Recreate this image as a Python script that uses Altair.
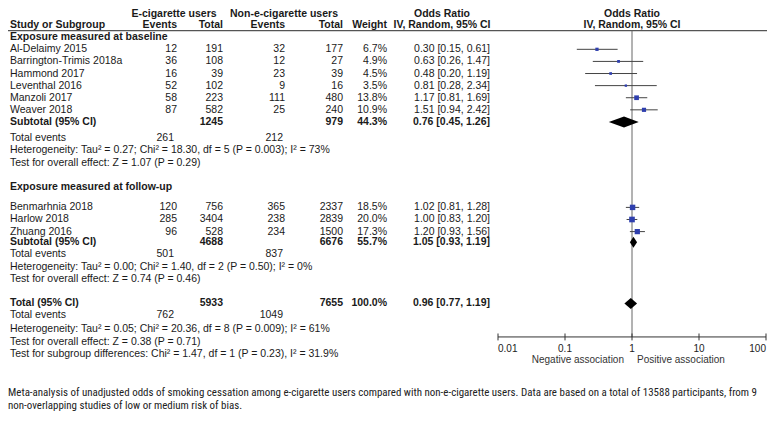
import altair as alt
import pandas as pd

# ---------------- data ----------------
studies = ["Al-Delaimy 2015", "Barrington-Trimis 2018a", "Hammond 2017", "Leventhal 2016",
           "Manzoli 2017", "Weaver 2018", "Benmarhnia 2018", "Harlow 2018", "Zhuang 2016"]
ecig_events = [12, 36, 16, 52, 58, 87, 120, 285, 96]
ecig_total = [191, 108, 39, 102, 223, 582, 756, 3404, 528]
non_events = [32, 12, 23, 9, 111, 25, 365, 238, 234]
non_total = [177, 27, 39, 16, 480, 240, 2337, 2839, 1500]
weights = [6.7, 4.9, 4.5, 3.5, 13.8, 10.9, 18.5, 20.0, 17.3]
or_est = [0.30, 0.63, 0.48, 0.81, 1.17, 1.51, 1.02, 1.00, 1.20]
or_low = [0.15, 0.26, 0.20, 0.28, 0.81, 0.94, 0.81, 0.83, 0.93]
or_high = [0.61, 1.47, 1.19, 2.34, 1.69, 2.42, 1.28, 1.20, 1.56]
study_lines = [2.9, 3.88, 4.86, 5.84, 6.82, 7.80, 15.7, 16.68, 17.66]

pooled_labels = ["Subtotal (95% CI)", "Subtotal (95% CI)", "Total (95% CI)"]
pooled_ecig_total = [1245, 4688, 5933]
pooled_non_total = [979, 6676, 7655]
pooled_weight = [44.3, 55.7, 100.0]
pooled_est = [0.76, 1.05, 0.96]
pooled_low = [0.45, 0.93, 0.77]
pooled_high = [1.26, 1.19, 1.19]
pooled_lines = [8.79, 18.52, 23.48]

total_events_ecig = [261, 501, 762]
total_events_non = [212, 837, 1049]
total_events_lines = [10.07, 19.5, 24.45]

group_headers = ["Exposure measured at baseline", "Exposure measured at follow-up"]
group_lines = [1.93, 14.03]

stats_texts = [
    "Heterogeneity: Tau\u00b2 = 0.27; Chi\u00b2 = 18.30, df = 5 (P = 0.003); I\u00b2 = 73%",
    "Test for overall effect: Z = 1.07 (P = 0.29)",
    "Heterogeneity: Tau\u00b2 = 0.00; Chi\u00b2 = 1.40, df = 2 (P = 0.50); I\u00b2 = 0%",
    "Test for overall effect: Z = 0.74 (P = 0.46)",
    "Heterogeneity: Tau\u00b2 = 0.05; Chi\u00b2 = 20.36, df = 8 (P = 0.009); I\u00b2 = 61%",
    "Test for overall effect: Z = 0.38 (P = 0.71)",
    "Test for subgroup differences: Chi\u00b2 = 1.47, df = 1 (P = 0.23), I\u00b2 = 31.9%",
]
stats_lines = [11.08, 12.09, 20.5, 21.5, 25.57, 26.58, 27.59]

axis_ticks = [0.01, 0.1, 1, 10, 100]
axis_tick_labels = ["0.01", "0.1", "1", "10", "100"]

caption_lines_text = [
    "Meta-analysis of unadjusted odds of smoking cessation among e-cigarette users compared with non-e-cigarette users. Data are based on a total of 13588 participants, from 9",
    "non-overlapping studies of low or medium risk of bias.",
]

# ---------------- layout ----------------
W, H = 759, 405
LINE_PX = 12.35
TOP = 5.5
HEADER1, HEADER2, HEADER_RULE = 0.05, 0.94, 1.39
AXIS_LINE, TICK_LABEL_LINE, ASSOC_LINE = 26.19, 27.13, 28.06
CAPTION_LINES = [30.7, 31.78]
TICK_HALF = 0.28
DIAMOND_HALF = 0.45

FONT = "Liberation Sans"
FS = 10.5
TXT = "#1a1a1a"

YS = alt.Scale(domain=[-TOP / LINE_PX, (H - TOP) / LINE_PX], reverse=True)
XS = alt.Scale(type="log", domain=[0.01, 100], range=[490, 758])

# columns (chart px)
X_LABEL = 2
X_EV1, X_TOT1, X_EV2, X_TOT2, X_W, X_OR = 169, 215, 277, 335, 379, 482
X_OR_HDR = 434
X_FOREST_HDR = 624


def fmt_ci(e, l, h):
    return f"{e:.2f} [{l:.2f}, {h:.2f}]"


study_df = pd.DataFrame({
    "label": studies, "e_ev": [str(v) for v in ecig_events], "e_tot": [str(v) for v in ecig_total],
    "n_ev": [str(v) for v in non_events], "n_tot": [str(v) for v in non_total],
    "w": [f"{v:.1f}%" for v in weights], "weight": weights,
    "ci": [fmt_ci(e, l, h) for e, l, h in zip(or_est, or_low, or_high)],
    "est": or_est, "lo": or_low, "hi": or_high, "line": study_lines,
})

pooled_df = pd.DataFrame({
    "label": pooled_labels, "e_tot": [str(v) for v in pooled_ecig_total],
    "n_tot": [str(v) for v in pooled_non_total], "w": [f"{v:.1f}%" for v in pooled_weight],
    "ci": [fmt_ci(e, l, h) for e, l, h in zip(pooled_est, pooled_low, pooled_high)],
    "line": pooled_lines,
})

te_df = pd.DataFrame({
    "label": ["Total events"] * 3, "e_ev": [str(v) for v in total_events_ecig],
    "n_ev": [str(v) for v in total_events_non], "line": total_events_lines,
})

grp_df = pd.DataFrame({"label": group_headers, "line": group_lines})
stats_df = pd.DataFrame({"label": stats_texts, "line": stats_lines})
cap_df = pd.DataFrame({"label": caption_lines_text, "line": CAPTION_LINES})

diamond_rows = []
for i, (e, l, h, ln) in enumerate(zip(pooled_est, pooled_low, pooled_high, pooled_lines)):
    diamond_rows.append({"g": i, "x": l, "y1": ln, "y2": ln})
    diamond_rows.append({"g": i, "x": e, "y1": ln - DIAMOND_HALF, "y2": ln + DIAMOND_HALF})
    diamond_rows.append({"g": i, "x": h, "y1": ln, "y2": ln})
diamond_df = pd.DataFrame(diamond_rows)

tick_df = pd.DataFrame({"v": axis_ticks, "lab": axis_tick_labels,
                        "y1": AXIS_LINE - TICK_HALF, "y2": AXIS_LINE + TICK_HALF,
                        "ly": TICK_LABEL_LINE})
axis_df = pd.DataFrame({"lo": [axis_ticks[0]], "hi": [axis_ticks[-1]], "line": [AXIS_LINE]})
ref_df = pd.DataFrame({"v": [1], "y1": [HEADER_RULE], "y2": [AXIS_LINE]})
hrule_df = pd.DataFrame({"line": [HEADER_RULE]})


def txt(df, field, x, align="left", bold=False, size=FS, color=TXT, font=FONT, line="line"):
    return alt.Chart(df).mark_text(
        align=align, baseline="middle", font=font, fontSize=size,
        fontWeight="bold" if bold else "normal", color=color,
    ).encode(
        x=alt.value(x),
        y=alt.Y(f"{line}:Q", scale=YS, axis=None),
        text=alt.Text(f"{field}:N"),
    )


hdr1_df = pd.DataFrame({"t": ["E-cigarette users", "Non-e-cigarette users", "Odds Ratio", "Odds Ratio"],
                        "line": HEADER1})
hdr2_df = pd.DataFrame({"t": ["Study or Subgroup", "Events", "Total", "Events", "Total", "Weight",
                              "IV, Random, 95% CI", "IV, Random, 95% CI"], "line": HEADER2})

layers = []
# headers
layers.append(txt(hdr1_df.iloc[[0]], "t", 166, "center", True))
layers.append(txt(hdr1_df.iloc[[1]], "t", 276, "center", True))
layers.append(txt(hdr1_df.iloc[[2]], "t", X_OR_HDR, "center", True))
layers.append(txt(hdr1_df.iloc[[3]], "t", X_FOREST_HDR, "center", True))
layers.append(txt(hdr2_df.iloc[[0]], "t", X_LABEL, "left", True))
layers.append(txt(hdr2_df.iloc[[1]], "t", X_EV1, "right", True))
layers.append(txt(hdr2_df.iloc[[2]], "t", X_TOT1, "right", True))
layers.append(txt(hdr2_df.iloc[[3]], "t", X_EV2, "right", True))
layers.append(txt(hdr2_df.iloc[[4]], "t", X_TOT2, "right", True))
layers.append(txt(hdr2_df.iloc[[5]], "t", X_W, "right", True))
layers.append(txt(hdr2_df.iloc[[6]], "t", X_OR_HDR, "center", True))
layers.append(txt(hdr2_df.iloc[[7]], "t", X_FOREST_HDR, "center", True))

# header rule
layers.append(alt.Chart(hrule_df).mark_rule(color="#555555", strokeWidth=1.2).encode(
    x=alt.value(0), x2=alt.value(W), y=alt.Y("line:Q", scale=YS, axis=None)))

# group headers
layers.append(txt(grp_df, "label", X_LABEL, "left", True))

# studies
layers.append(txt(study_df, "label", X_LABEL))
layers.append(txt(study_df, "e_ev", X_EV1, "right"))
layers.append(txt(study_df, "e_tot", X_TOT1, "right"))
layers.append(txt(study_df, "n_ev", X_EV2, "right"))
layers.append(txt(study_df, "n_tot", X_TOT2, "right"))
layers.append(txt(study_df, "w", X_W, "right"))
layers.append(txt(study_df, "ci", X_OR, "right"))

# pooled rows
layers.append(txt(pooled_df, "label", X_LABEL, "left", True))
layers.append(txt(pooled_df, "e_tot", X_TOT1, "right", True))
layers.append(txt(pooled_df, "n_tot", X_TOT2, "right", True))
layers.append(txt(pooled_df, "w", X_W, "right", True))
layers.append(txt(pooled_df, "ci", X_OR, "right", True))

# total events
layers.append(txt(te_df, "label", X_LABEL))
layers.append(txt(te_df, "e_ev", X_EV1 - 3, "right"))
layers.append(txt(te_df, "n_ev", X_EV2 - 2, "right"))

# stats
layers.append(txt(stats_df, "label", X_LABEL))

# reference line at OR = 1
layers.append(alt.Chart(ref_df).mark_rule(color="#666666", strokeWidth=1).encode(
    x=alt.X("v:Q", scale=XS, axis=None),
    y=alt.Y("y1:Q", scale=YS, axis=None), y2="y2:Q"))

# CI lines
layers.append(alt.Chart(study_df).mark_rule(color="#444444", strokeWidth=1).encode(
    x=alt.X("lo:Q", scale=XS, axis=None), x2="hi:Q",
    y=alt.Y("line:Q", scale=YS, axis=None)))

# squares
layers.append(alt.Chart(study_df).mark_square(color="#2f3fae", opacity=1).encode(
    x=alt.X("est:Q", scale=XS, axis=None),
    y=alt.Y("line:Q", scale=YS, axis=None),
    size=alt.Size("weight:Q", scale=alt.Scale(domain=[0, 20], range=[0, 32]), legend=None)))

# diamonds
layers.append(alt.Chart(diamond_df).mark_area(color="black", orient="vertical", opacity=1).encode(
    x=alt.X("x:Q", scale=XS, axis=None),
    y=alt.Y("y1:Q", scale=YS, axis=None), y2="y2:Q",
    detail="g:N"))

# axis line and ticks
layers.append(alt.Chart(axis_df).mark_rule(color="#333333", strokeWidth=1).encode(
    x=alt.X("lo:Q", scale=XS, axis=None), x2="hi:Q",
    y=alt.Y("line:Q", scale=YS, axis=None)))
layers.append(alt.Chart(tick_df).mark_rule(color="#333333", strokeWidth=1).encode(
    x=alt.X("v:Q", scale=XS, axis=None),
    y=alt.Y("y1:Q", scale=YS, axis=None), y2="y2:Q"))

for sub, al in [(tick_df.iloc[[0]], "left"), (tick_df.iloc[1:4], "center"), (tick_df.iloc[[4]], "right")]:
    layers.append(alt.Chart(sub).mark_text(align=al, baseline="middle", font=FONT, fontSize=10,
                                           color="#222222").encode(
        x=alt.X("v:Q", scale=XS, axis=None),
        y=alt.Y("ly:Q", scale=YS, axis=None),
        text="lab:N"))

assoc_df = pd.DataFrame({"t": ["Negative association", "Positive association"], "line": ASSOC_LINE})
layers.append(txt(assoc_df.iloc[[0]], "t", 616, "right", size=10, color="#333333"))
layers.append(txt(assoc_df.iloc[[1]], "t", 629, "left", size=10, color="#333333"))

# caption
layers.append(txt(cap_df, "label", 0, "left", size=10.95, color="#222222",
                  font="Liberation Sans Narrow, Roboto Condensed, DejaVu Sans Condensed, Liberation Sans"))

chart = alt.layer(*layers).properties(
    width=W, height=H, padding=0, autosize=alt.AutoSizeParams(type="none")
).configure_view(stroke=None)

chart.save("out.html", embed_options={"renderer": "svg", "actions": False})
